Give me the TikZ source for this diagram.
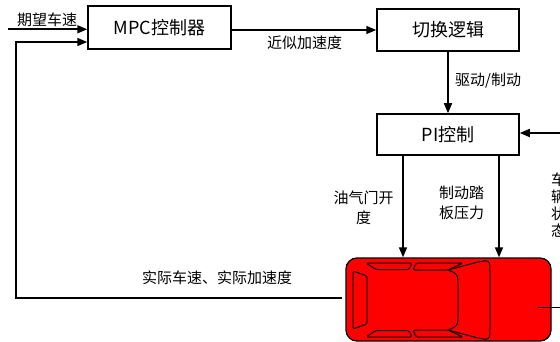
\documentclass[tikz,border=0pt]{standalone}
\usepackage{fontspec}
\setmainfont{Noto Sans CJK SC}
\usetikzlibrary{arrows.meta}

\begin{document}
\begin{tikzpicture}[x=1pt,y=-1pt,
  blk/.style={draw=black, line width=1.5pt, inner sep=0pt,
    font=\fontsize{18}{20}\selectfont},
  lbl/.style={inner sep=0pt, font=\fontsize{15}{17}\selectfont},
  conn/.style={line width=1.6pt, -{Triangle[length=10pt,width=8pt]}},
  wire/.style={line width=1.6pt},
  carbody/.style={draw=black, line width=1.3pt, fill=red, rounded corners=11pt,
    inner sep=0pt, minimum width=205pt, minimum height=83pt},
  glass/.style={draw=black, line width=1pt, line join=round, rounded corners=1.5pt}
]
\useasboundingbox (0,0) rectangle (560,342);

% blocks
\node[blk, minimum width=143pt, minimum height=43pt] (mpc) at (159.5,27.5) {MPC控制器};
\node[blk, minimum width=142pt, minimum height=42pt] (sw)  at (448,30)    {切换逻辑};
\node[blk, minimum width=142pt, minimum height=41pt] (pi)  at (448,134.5) {PI控制};
\node[carbody] (car) at (448.5,299.5) {};

% car roof details
\draw[glass] (353,271) -- (367,276) -- (367,324) -- (353,329) -- cycle;
\draw[glass] (366,263) -- (412,263) -- (409,269.5) -- (376,269.5) -- cycle;
\draw[glass] (366,337) -- (412,337) -- (409,330.5) -- (376,330.5) -- cycle;
\draw[glass] (416,263) -- (463,263) -- (448,270) -- (413,270) -- cycle;
\draw[glass] (416,337) -- (463,337) -- (448,330) -- (413,330) -- cycle;
\draw[draw=black, line width=1pt, line join=round]
  (448,270) -- (476,262.5) .. controls (490,259.5) .. (490,274) -- (490,326)
  .. controls (490,340.5) .. (476,337.5) -- (448,330)
  .. controls (458,326) .. (458,315) -- (458,285)
  .. controls (458,274) .. (448,270) -- cycle;

% reference speed input
\coordinate (inp) at (8,29.3);
\draw[conn] (inp) -- (inp -| mpc.west);
\node[lbl] (vref) at (47,20) {期望车速};

% MPC to switching logic
\draw[conn] (mpc.east |- sw.west) -- (sw.west);
\node[lbl] (acc) at (304.5,42.5) {近似加速度};

% switching logic to PI
\draw[conn] (sw.south) -- (pi.north);
\node[lbl, anchor=west] (mode) at (455,81) {驱动/制动};

% PI outputs to the vehicle
\coordinate (thx) at (403,0);
\coordinate (brx) at (499,0);
\draw[conn] (pi.south -| thx) -- (car.north -| thx);
\draw[conn] (pi.south -| brx) -- (car.north -| brx);
\node[lbl, align=center, font=\fontsize{15}{20}\selectfont] (thr) at (363.5,208) {油气门开\\度};
\node[lbl, align=center, font=\fontsize{15}{20}\selectfont] (brk) at (461.5,203) {制动踏\\板压力};

% vehicle state feedback to PI
\coordinate (vs) at (562,133);
\draw[conn] (vs) -- (vs -| pi.east);
\node[lbl, align=center, font=\fontsize{15}{17}\selectfont] (state) at (558.5,205.5) {车\\辆\\状\\态};
\coordinate (carout) at (538,307.5);
\coordinate (carend) at (562,307.5);
\draw[wire] (carout) -- (carend);

% measured speed / acceleration feedback to MPC
\coordinate (fbx) at (16,0);
\coordinate (mpcin) at ([yshift=-14.5pt]mpc.west);
\coordinate (carl) at ([xshift=-3pt,yshift=1.5pt]car.west);
\draw[conn] (carl) -| (fbx |- mpcin) -- (mpcin);
\node[lbl] (meas) at (217,278) {实际车速、实际加速度};
\end{tikzpicture}
\end{document}
